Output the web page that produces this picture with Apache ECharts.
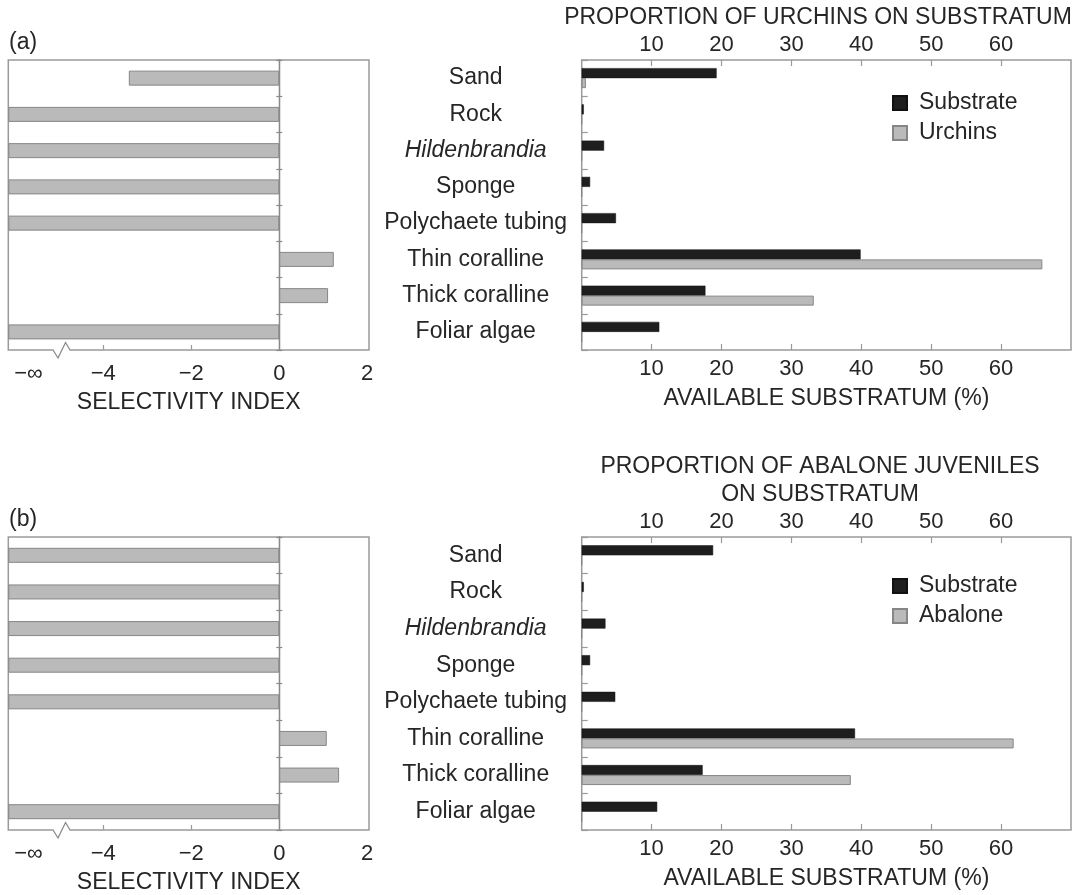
<!DOCTYPE html>
<html><head><meta charset="utf-8">
<script src="https://cdn.jsdelivr.net/npm/echarts@6/dist/echarts.min.js"></script>
<style>html,body{margin:0;padding:0;background:#fff}#c{width:1076px;height:895px}</style>
</head><body><div id="c"></div>
<script>
// ---------- data ----------
const categories = ['Sand', 'Rock', 'Hildenbrandia', 'Sponge', 'Polychaete tubing', 'Thin coralline', 'Thick coralline', 'Foliar algae'];
// selectivity index (−Infinity = never used)
const selectivityA = [-3.42, -Infinity, -Infinity, -Infinity, -Infinity, 1.24, 1.11, -Infinity];
const selectivityB = [-Infinity, -Infinity, -Infinity, -Infinity, -Infinity, 1.08, 1.36, -Infinity];
// available substratum (%) and proportion of animals (%)
const substrateA = [19.3, 0.3, 3.2, 1.2, 4.9, 39.9, 17.7, 11.1];
const urchins    = [0.6, 0, 0, 0, 0, 65.9, 33.2, 0];
const substrateB = [18.8, 0.3, 3.4, 1.2, 4.8, 39.1, 17.3, 10.8];
const abalone    = [0, 0, 0, 0, 0, 61.8, 38.5, 0];
// tick labels
const siTicks = [-4, -2, 0, 2];
const siInfLabelAt = -5.7;   // where the "−∞" label sits
const siBreakAt = -4.95;     // axis break mark
const pctTicks = [10, 20, 30, 40, 50, 60];

// ---------- style / layout ----------
const FONT = "'Liberation Sans', Arial, sans-serif";
const TXT = '#262626';
const FRAME = '#9a9a9a';
const GREY = '#bababa', GREY_BORDER = '#868686', BLACK = '#1e1e1e';
const SI_MIN = -6.16, SI_MAX = 2.04;
const GL_A = {left: 8.3, top: 60, width: 360.7, height: 290};
const GR_A = {left: 581.7, top: 60, width: 489.3, height: 290};
const GL_B = {left: 8.3, top: 537, width: 360.7, height: 293};
const GR_B = {left: 581.7, top: 537, width: 489.3, height: 293};

const siData = arr => arr.map(v => (v === -Infinity ? SI_MIN : v));
const siFmt = v => (v === siInfLabelAt ? '\u2212\u221E' : (v < 0 ? '\u2212' + Math.abs(v) : String(v)));

function gridOpt(g) {
  return Object.assign({show: true, borderColor: FRAME, borderWidth: 1.5, backgroundColor: 'transparent', outerBoundsMode: 'none'}, g);
}
function siXAxis(gi) {
  return {
    type: 'value', gridIndex: gi, min: SI_MIN, max: SI_MAX,
    axisLine: {show: false, onZero: false},
    splitLine: {show: false},
    axisTick: {show: true, inside: true, length: 5, customValues: [-4, -2], lineStyle: {color: FRAME, width: 1.2}},
    axisLabel: {customValues: [siInfLabelAt].concat(siTicks), formatter: siFmt, fontSize: 22, fontFamily: FONT, color: TXT, margin: 13},
    name: 'SELECTIVITY INDEX', nameLocation: 'middle', nameGap: 41,
    nameTextStyle: {fontSize: 23, fontFamily: FONT, color: TXT}
  };
}
function pctXAxis(gi, pos, withName) {
  return {
    type: 'value', gridIndex: gi, position: pos, min: 0, max: 70,
    axisLine: {show: false, onZero: false},
    splitLine: {show: false},
    axisTick: {show: true, inside: true, length: 6, customValues: pctTicks, lineStyle: {color: FRAME, width: 1.2}},
    axisLabel: {customValues: pctTicks, fontSize: 22, fontFamily: FONT, color: TXT, margin: pos === 'top' ? 4 : 8},
    name: withName ? 'AVAILABLE SUBSTRATUM (%)' : '', nameLocation: 'middle', nameGap: 37,
    nameTextStyle: {fontSize: 23, fontFamily: FONT, color: TXT}
  };
}
function zeroYAxis(gi, pos, xIdx) {
  return {
    type: 'category', gridIndex: gi, position: pos, inverse: true, data: categories,
    axisLine: {show: true, onZero: true, onZeroAxisIndex: xIdx, lineStyle: {color: '#8a8a8a', width: 1.3}},
    axisTick: {show: true, inside: false, length: 3, lineStyle: {color: '#8a8a8a', width: 1.2}},
    axisLabel: {show: false}, splitLine: {show: false}
  };
}
function catYAxis(gi) {
  return {
    type: 'category', gridIndex: gi, inverse: true, data: categories,
    axisLine: {show: false},
    axisTick: {show: true, inside: true, length: 6, lineStyle: {color: FRAME, width: 1.2}},
    axisLabel: {
      align: 'center', margin: 106, fontSize: 23, fontFamily: FONT, color: TXT,
      formatter: v => (v === 'Hildenbrandia' ? '{i|' + v + '}' : v),
      rich: {i: {fontStyle: 'italic', fontSize: 23, fontFamily: FONT, color: TXT}}
    },
    splitLine: {show: false}
  };
}
const greyStyle = {color: GREY, borderColor: GREY_BORDER, borderWidth: 1};
const blackStyle = {color: BLACK, borderColor: '#111', borderWidth: 0.5};
const legendText = {fontSize: 23, fontFamily: FONT, color: TXT, lineHeight: 26, padding: [0, 0, 0, 7]};

const chart = echarts.init(document.getElementById('c'), null, {renderer: 'canvas'});
const option = {
  animation: false,
  backgroundColor: '#fff',
  textStyle: {fontFamily: FONT},
  grid: [gridOpt(GL_A), gridOpt(GR_A), gridOpt(GL_B), gridOpt(GR_B)],
  xAxis: [siXAxis(0), pctXAxis(1, 'bottom', true), pctXAxis(1, 'top', false),
          siXAxis(2), pctXAxis(3, 'bottom', true), pctXAxis(3, 'top', false)],
  yAxis: [zeroYAxis(0, 'left', 0), zeroYAxis(0, 'right', 0), catYAxis(1),
          zeroYAxis(2, 'left', 3), zeroYAxis(2, 'right', 3), catYAxis(3)],
  legend: [
    {data: ['Substrate', 'Urchins'], orient: 'vertical', left: 892, top: 90, padding: 0, itemWidth: 14, itemHeight: 14, itemGap: 4,
     icon: 'rect', selectedMode: false, textStyle: legendText},
    {data: ['Substrate', 'Abalone'], orient: 'vertical', left: 892, top: 573, padding: 0, itemWidth: 14, itemHeight: 14, itemGap: 4,
     icon: 'rect', selectedMode: false, textStyle: legendText}
  ],
  series: [
    {type: 'bar', name: 'SI urchins', xAxisIndex: 0, yAxisIndex: 0, data: siData(selectivityA), barWidth: 15, itemStyle: greyStyle, silent: true},
    {type: 'bar', name: 'Substrate', xAxisIndex: 1, yAxisIndex: 2, data: substrateA, barWidth: 10, barGap: '0%', itemStyle: blackStyle, silent: true},
    {type: 'bar', name: 'Urchins', xAxisIndex: 1, yAxisIndex: 2, data: urchins, barWidth: 10, barGap: '0%', itemStyle: greyStyle, silent: true},
    {type: 'bar', name: 'SI abalone', xAxisIndex: 3, yAxisIndex: 3, data: siData(selectivityB), barWidth: 15, itemStyle: greyStyle, silent: true},
    {type: 'bar', name: 'Substrate', xAxisIndex: 4, yAxisIndex: 5, data: substrateB, barWidth: 10, barGap: '0%', itemStyle: blackStyle, silent: true},
    {type: 'bar', name: 'Abalone', xAxisIndex: 4, yAxisIndex: 5, data: abalone, barWidth: 10, barGap: '0%', itemStyle: greyStyle, silent: true}
  ]
};
chart.setOption(option);

// free texts + axis-break marks
function breakMark(xAxisIndex, g) {
  const bx = chart.convertToPixel({xAxisIndex: xAxisIndex}, siBreakAt);
  const by = g.top + g.height;
  return [
    {type: 'rect', silent: true, z: 100, shape: {x: bx - 8, y: by - 2, width: 16, height: 4}, style: {fill: '#fff'}},
    {type: 'polyline', silent: true, z: 101, shape: {points: [[bx - 8.5, by], [bx - 3.5, by + 8], [bx + 4, by - 7.5], [bx + 8.5, by]]},
     style: {stroke: '#8a8a8a', lineWidth: 1.3, fill: null}}
  ];
}
const txt = (text, x, y, align, extra) => ({type: 'text', silent: true, x: x, y: y,
  style: Object.assign({text: text, fontSize: 23, fontFamily: FONT, fill: TXT, align: align, verticalAlign: 'middle'}, extra || {})});
chart.setOption({
  graphic: [
    txt('(a)', 9, 43, 'left'),
    txt('(b)', 9, 520, 'left'),
    txt('PROPORTION OF URCHINS ON SUBSTRATUM', 818, 18, 'center'),
    txt('PROPORTION OF ABALONE JUVENILES\nON SUBSTRATUM', 820, 481, 'center', {lineHeight: 28})
  ].concat(breakMark(0, GL_A), breakMark(3, GL_B))
});
</script>
</body></html>
